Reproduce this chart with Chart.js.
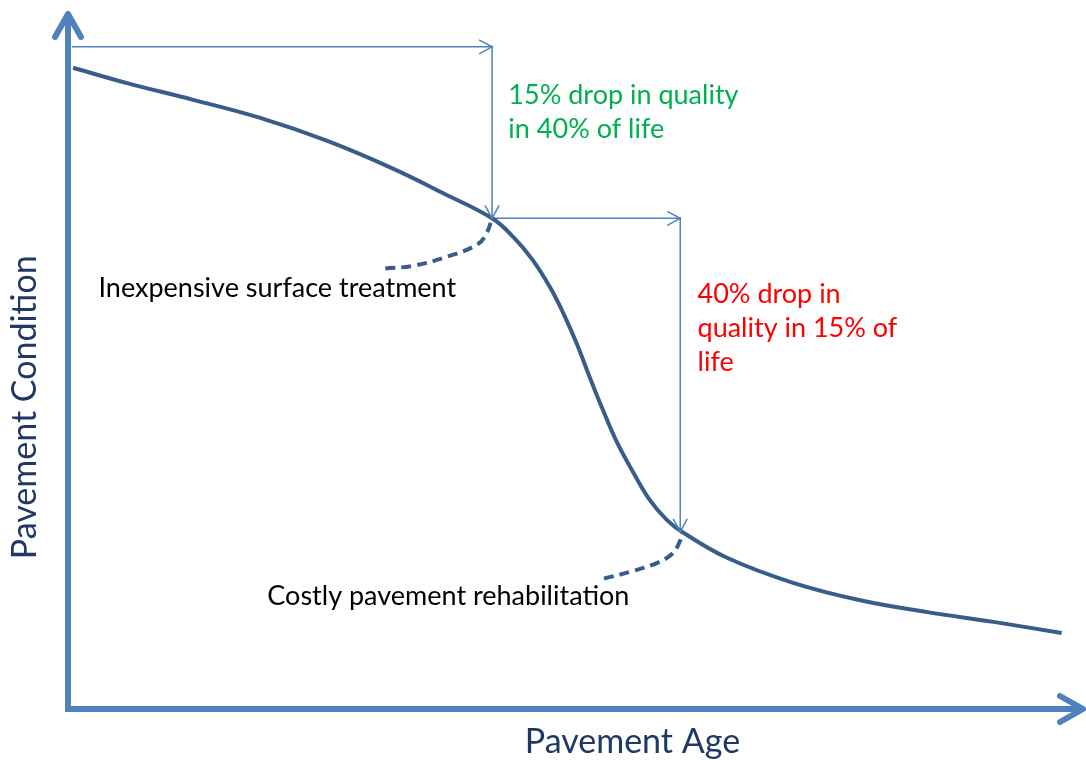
<!DOCTYPE html>
<html>
<head>
<meta charset="utf-8">
<script src="https://cdn.jsdelivr.net/npm/chart.js@4/dist/chart.umd.min.js"></script>
<style>
  body { margin: 0; background: #fff; }
  #wrap { width: 1086px; height: 760px; }
</style>
</head>
<body>
<div id="wrap"><canvas id="decayChart"></canvas></div>
<script>
// pavement age (% of life) vs condition (% quality)
const ageValues = [0.5, 5.8, 12.3, 18.9, 25.5, 32.0, 36.9, 41.7, 43.8, 45.7, 47.4, 48.7, 50.0, 51.3, 52.6, 54.0, 55.6, 57.2, 58.9, 60.4, 64.8, 71.3, 77.9, 84.5, 91.0, 97.7];
const conditionValues = [92.0, 89.8, 87.4, 84.8, 81.5, 77.5, 74.0, 70.4, 67.7, 64.4, 60.5, 56.8, 52.5, 47.6, 42.9, 38.2, 33.9, 30.0, 27.1, 25.4, 21.7, 18.1, 15.6, 13.9, 12.5, 10.9];

// dashed leader lines to the two treatment points
const surfaceAge = [31.2, 34.0, 37.3, 40.3, 41.2, 41.7];
const surfaceCond = [63.2, 63.6, 64.9, 66.7, 68.4, 70.4];
const rehabAge = [52.7, 55.3, 58.0, 59.5, 60.2, 60.4];
const rehabCond = [18.7, 19.7, 21.0, 22.4, 24.2, 25.4];

// thin arrows: corner paths
const arrow1Age = [0.4, 41.7, 41.7];
const arrow1Cond = [95.0, 95.0, 70.4];
const arrow2Age = [41.7, 60.2, 60.2];
const arrow2Cond = [70.4, 70.4, 25.4];

const toPoints = (xs, ys) => xs.map((v, i) => ({ x: v, y: ys[i] }));

const notes = [
  { lines: ['15% drop in quality', 'in 40% of life'], x: 43.3, y: 88.0, color: '#00b050' },
  { lines: ['40% drop in', 'quality in 15% of', 'life'], x: 61.9, y: 59.5, color: '#ff0000' },
  { lines: ['Inexpensive surface treatment'], x: 3.0, y: 60.4, color: '#000000' },
  { lines: ['Costly pavement rehabilitation'], x: 19.6, y: 16.2, color: '#000000' }
];

const axisColor = '#4f81bd';
const titleColor = '#1f3864';

function chevron(ctx, tx, ty, angle, len, half) {
  // open arrow head pointing along angle, tip at (tx, ty)
  const c = Math.cos(angle), s = Math.sin(angle);
  ctx.beginPath();
  ctx.moveTo(tx - c * len - s * half, ty - s * len + c * half);
  ctx.lineTo(tx, ty);
  ctx.lineTo(tx - c * len + s * half, ty - s * len - c * half);
  ctx.stroke();
}

const overlay = {
  id: 'overlay',
  beforeDatasetsDraw(chart) {
    const { ctx, chartArea: a, scales: { x, y } } = chart;
    const x0 = x.getPixelForValue(0), y0 = y.getPixelForValue(0);
    ctx.save();
    ctx.strokeStyle = axisColor;
    ctx.lineWidth = 6;
    ctx.beginPath();
    ctx.moveTo(x0, y0 + 3);
    ctx.lineTo(x0, a.top + 1);
    ctx.moveTo(x0 - 3, y0);
    ctx.lineTo(a.right - 1, y0);
    ctx.stroke();
    ctx.lineCap = 'round';
    ctx.lineJoin = 'round';
    chevron(ctx, x0, a.top + 2, -Math.PI / 2, 23, 13);
    chevron(ctx, a.right - 2, y0, 0, 23, 13);
    ctx.restore();
  },
  afterDatasetsDraw(chart) {
    const { ctx, chartArea: a, scales: { x, y } } = chart;
    ctx.save();
    // heads on the thin arrows
    ctx.strokeStyle = axisColor;
    ctx.lineWidth = 1.5;
    chart.data.datasets.forEach((ds, i) => {
      if (!ds.arrow) return;
      const pts = chart.getDatasetMeta(i).data;
      for (let k = 1; k < pts.length; k++) {
        const ang = Math.atan2(pts[k].y - pts[k - 1].y, pts[k].x - pts[k - 1].x);
        chevron(ctx, pts[k].x, pts[k].y, ang, 13, 7);
      }
    });
    // annotations
    ctx.font = '27px Lato';
    ctx.textBaseline = 'middle';
    ctx.textAlign = 'left';
    notes.forEach(n => {
      ctx.fillStyle = n.color;
      n.lines.forEach((t, j) => {
        ctx.fillText(t, x.getPixelForValue(n.x), y.getPixelForValue(n.y) + j * 34);
      });
    });
    // axis titles
    ctx.fillStyle = titleColor;
    ctx.font = '34px Lato';
    ctx.textAlign = 'center';
    ctx.fillText('Pavement Age', x.getPixelForValue(55.5), a.bottom + 33);
    ctx.translate(a.left - 43, y.getPixelForValue(43.3));
    ctx.rotate(-Math.PI / 2);
    ctx.fillText('Pavement Condition', 0, 0);
    ctx.restore();
  }
};

const curveColor = '#385d8a';

new Chart(document.getElementById('decayChart'), {
  type: 'line',
  data: {
    datasets: [
      {
        label: 'Pavement condition',
        data: toPoints(ageValues, conditionValues),
        borderColor: curveColor,
        borderWidth: 4,
        tension: 0.4,
        pointRadius: 0
      },
      {
        label: 'Inexpensive surface treatment',
        data: toPoints(surfaceAge, surfaceCond),
        borderColor: curveColor,
        borderWidth: 4,
        borderDash: [10, 6],
        tension: 0.4,
        pointRadius: 0
      },
      {
        label: 'Costly pavement rehabilitation',
        data: toPoints(rehabAge, rehabCond),
        borderColor: curveColor,
        borderWidth: 4,
        borderDash: [10, 6],
        tension: 0.4,
        pointRadius: 0
      },
      {
        label: 'arrow 1',
        data: toPoints(arrow1Age, arrow1Cond),
        borderColor: axisColor,
        borderWidth: 1.5,
        tension: 0,
        pointRadius: 0,
        arrow: true
      },
      {
        label: 'arrow 2',
        data: toPoints(arrow2Age, arrow2Cond),
        borderColor: axisColor,
        borderWidth: 1.5,
        tension: 0,
        pointRadius: 0,
        arrow: true
      }
    ]
  },
  options: {
    responsive: true,
    maintainAspectRatio: false,
    animation: false,
    layout: { padding: { left: 68, right: 1, top: 12, bottom: 51 } },
    plugins: { legend: { display: false }, tooltip: { enabled: false } },
    scales: {
      x: { type: 'linear', min: 0, max: 100, display: false },
      y: { type: 'linear', min: 0, max: 100, display: false }
    }
  },
  plugins: [overlay]
});
</script>
</body>
</html>
